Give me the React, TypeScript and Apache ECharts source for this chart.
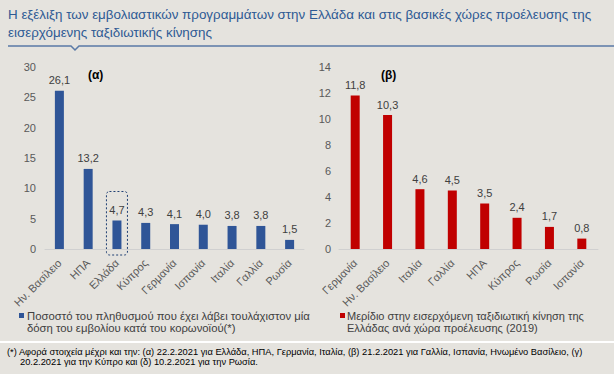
import React, { useEffect, useRef } from "react";
import * as echarts from "echarts";

const titleLines = [
  "Η εξέλιξη των εμβολιαστικών προγραμμάτων στην Ελλάδα και στις βασικές χώρες προέλευσης της",
  "εισερχόμενης ταξιδιωτικής κίνησης",
];

const leftCategories = ["Ην. Βασίλειο", "ΗΠΑ", "Ελλάδα", "Κύπρος", "Γερμανία", "Ισπανία", "Ιταλία", "Γαλλία", "Ρωσία"];
const leftValues = [26.1, 13.2, 4.7, 4.3, 4.1, 4.0, 3.8, 3.8, 1.5];
const leftLegend = [
  "Ποσοστό του πληθυσμού που έχει λάβει τουλάχιστον μία",
  "δόση του εμβολίου κατά του κορωνοϊού(*)",
];

const rightCategories = ["Γερμανία", "Ην. Βασίλειο", "Ιταλία", "Γαλλία", "ΗΠΑ", "Κύπρος", "Ρωσία", "Ισπανία"];
const rightValues = [11.8, 10.3, 4.6, 4.5, 3.5, 2.4, 1.7, 0.8];
const rightLegend = [
  "Μερίδιο στην εισερχόμενη ταξιδιωτική κίνηση της",
  "Ελλάδας ανά χώρα προέλευσης (2019)",
];

const footnoteLines = [
  "(*) Αφορά στοιχεία μέχρι και την: (α) 22.2.2021 για Ελλάδα, ΗΠΑ, Γερμανία, Ιταλία, (β) 21.2.2021 για Γαλλία, Ισπανία, Ηνωμένο Βασίλειο, (γ)",
  "20.2.2021 για την Κύπρο και (δ) 10.2.2021 για την Ρωσία.",
];

const BG = "#e5e3de";
const BLUE = "#2f5597";
const RED = "#c00000";
const FONT = "'Liberation Sans', Arial, sans-serif";

const fmt = (v: number) => v.toFixed(1).replace(".", ",");

export default function App() {
  const ref = useRef<HTMLDivElement>(null);
  useEffect(() => {
    if (!ref.current) return;
    const chart = echarts.init(ref.current, undefined, { renderer: "svg" });
    const axisLabel = { color: "#595959", fontSize: 11, fontFamily: FONT };
    const text = (x: number, y: number, t: string, size: number, fill: string, extra: any = {}) => ({
      type: "text",
      x,
      y,
      silent: true,
      style: { text: t, fill, font: `${extra.weight || "normal"} ${size}px ${FONT}`, textVerticalAlign: "middle" },
    });
    const baseGraphics: any[] = [
      text(8, 14, titleLines[0], 13.4, "#2e5a94"),
      text(8, 32, titleLines[1], 13.4, "#2e5a94"),
      {
        type: "polyline",
        silent: true,
        shape: { points: [[8, 46], [71, 46], [75, 50], [79, 46], [614, 46]] },
        style: { stroke: "#5a7aa6", lineWidth: 1.5, fill: null },
      },
      text(88, 75, "(α)", 12, "#000", { weight: "bold" }),
      text(381, 75, "(β)", 12, "#000", { weight: "bold" }),
      { type: "rect", silent: true, shape: { x: 19, y: 313, width: 5, height: 5 }, style: { fill: BLUE } },
      text(27, 316, leftLegend[0], 11.3, "#404040"),
      text(27, 328, leftLegend[1], 11.3, "#404040"),
      { type: "rect", silent: true, shape: { x: 340, y: 313, width: 5, height: 5 }, style: { fill: RED } },
      text(347, 316, rightLegend[0], 11, "#404040"),
      text(347, 328, rightLegend[1], 11, "#404040"),
      { type: "rect", silent: true, shape: { x: 0, y: 341, width: 614, height: 2 }, style: { fill: "#ffffff" } },
      text(7, 352, footnoteLines[0], 9.3, "#000"),
      text(20, 362, footnoteLines[1], 9.3, "#000"),
    ];
    const option: any = {
      animation: false,
      backgroundColor: BG,
      grid: [
        { left: 45, right: 310, top: 67, bottom: 125 },
        { left: 339, right: 16, top: 67, bottom: 125 },
      ],
      xAxis: [
        {
          type: "category",
          gridIndex: 0,
          data: leftCategories,
          axisLine: { lineStyle: { color: "#d0d0d0" } },
          axisTick: { show: false },
          axisLabel: { ...axisLabel, rotate: 45, margin: 12, interval: 0 },
        },
        {
          type: "category",
          gridIndex: 1,
          data: rightCategories,
          axisLine: { lineStyle: { color: "#d0d0d0" } },
          axisTick: { show: false },
          axisLabel: { ...axisLabel, rotate: 45, margin: 12, interval: 0 },
        },
      ],
      yAxis: [
        {
          type: "value",
          gridIndex: 0,
          min: 0,
          max: 30,
          interval: 5,
          splitLine: { show: false },
          axisLine: { show: false },
          axisTick: { show: false },
          axisLabel: { ...axisLabel, margin: 9 },
        },
        {
          type: "value",
          gridIndex: 1,
          min: 0,
          max: 14,
          interval: 2,
          splitLine: { show: false },
          axisLine: { show: false },
          axisTick: { show: false },
          axisLabel: { ...axisLabel, margin: 8 },
        },
      ],
      series: [
        {
          type: "bar",
          xAxisIndex: 0,
          yAxisIndex: 0,
          data: leftValues,
          barWidth: 9,
          itemStyle: { color: BLUE },
          label: {
            show: true,
            position: "top",
            distance: 5,
            color: "#404040",
            fontSize: 11,
            fontFamily: FONT,
            formatter: (p: any) => fmt(p.value),
          },
        },
        {
          type: "bar",
          xAxisIndex: 1,
          yAxisIndex: 1,
          data: rightValues,
          barWidth: 9,
          itemStyle: { color: RED },
          label: {
            show: true,
            position: "top",
            distance: 5,
            color: "#404040",
            fontSize: 11,
            fontFamily: FONT,
            formatter: (p: any) => fmt(p.value),
          },
        },
      ],
      graphic: baseGraphics,
    };
    chart.setOption(option);
    const gi = leftCategories.indexOf("Ελλάδα");
    const cx = chart.convertToPixel({ xAxisIndex: 0 }, leftCategories[gi]) as number;
    const yTop = chart.convertToPixel({ yAxisIndex: 0 }, leftValues[gi]) as number;
    const y0 = chart.convertToPixel({ yAxisIndex: 0 }, 0) as number;
    chart.setOption({
      graphic: [
        ...baseGraphics,
        {
          type: "rect",
          silent: true,
          shape: { x: cx - 10.5, y: yTop - 29, width: 21, height: y0 - yTop + 35, r: 3 },
          style: { fill: null, stroke: "#1f3f73", lineWidth: 1, lineDash: [2, 2] },
        },
      ],
    });
    return () => chart.dispose();
  }, []);
  return (
    <div
      ref={ref}
      style={{ position: "fixed", left: 0, top: 0, width: 614, height: 374 }}
    />
  );
}
